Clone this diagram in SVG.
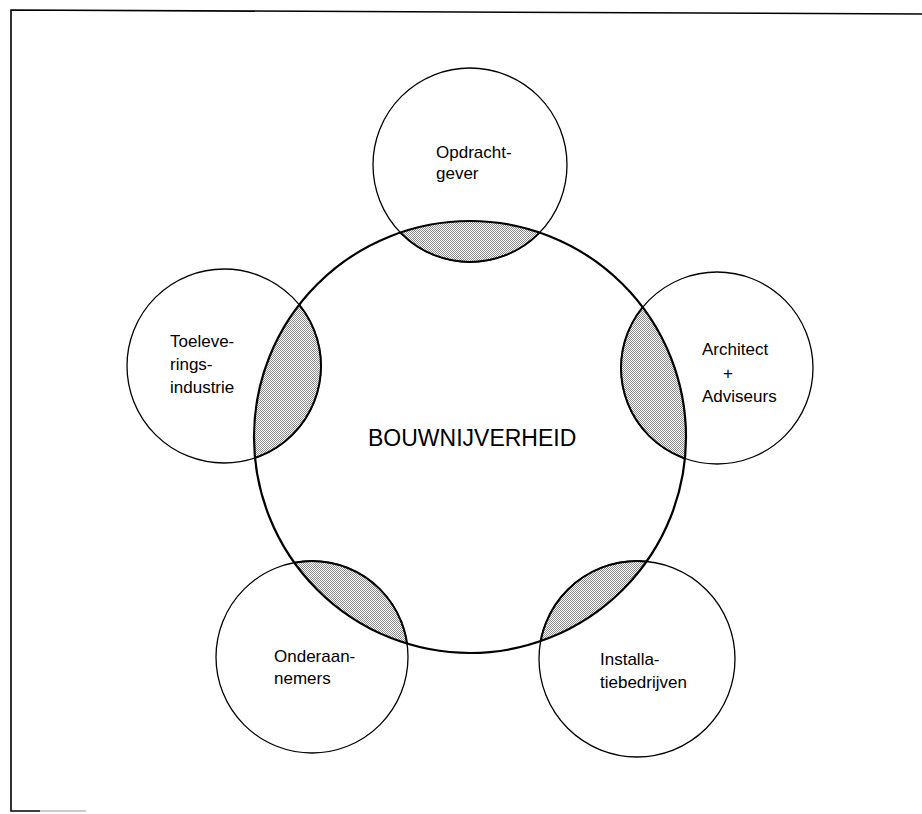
<svg xmlns="http://www.w3.org/2000/svg" width="922" height="814" viewBox="0 0 922 814">
<style>
.frame{fill:none;stroke:#000;stroke-width:1.6}
.small{fill:none;stroke:#000;stroke-width:1.3}
.lensedge{fill:none;stroke:#000;stroke-width:2}
.big{fill:none;stroke:#000;stroke-width:2.2}
.lbl{font-family:"Liberation Sans",Arial,sans-serif;font-size:17px;fill:#000}
.main{font-family:"Liberation Sans",Arial,sans-serif;font-size:23px;fill:#000}
</style>
<defs>
<pattern id="stip" width="2" height="2" patternUnits="userSpaceOnUse">
<rect width="2" height="2" fill="#ffffff"/>
<rect x="0" y="0" width="1" height="1" fill="#8a8a8a"/>
<rect x="1" y="1" width="1" height="1" fill="#8a8a8a"/>
</pattern>
<clipPath id="bigclip"><circle cx="470" cy="437" r="216"/></clipPath>
</defs>
<rect width="922" height="814" fill="#fff"/>
<g id="frame">
<polyline class="frame" points="922,14 11,10 11,811 40,811"/>
<line x1="40" y1="811" x2="86" y2="811" stroke="#bbbbbb" stroke-width="1.4"/>
</g>
<g id="lenses" clip-path="url(#bigclip)">
<circle cx="470" cy="165" r="97" fill="url(#stip)"/>
<circle cx="224" cy="366" r="97" fill="url(#stip)"/>
<circle cx="717" cy="368" r="96" fill="url(#stip)"/>
<circle cx="312" cy="657" r="96" fill="url(#stip)"/>
<circle cx="637" cy="659" r="98" fill="url(#stip)"/>
<circle class="lensedge" cx="470" cy="165" r="97"/>
<circle class="lensedge" cx="224" cy="366" r="97"/>
<circle class="lensedge" cx="717" cy="368" r="96"/>
<circle class="lensedge" cx="312" cy="657" r="96"/>
<circle class="lensedge" cx="637" cy="659" r="98"/>
</g>
<g id="bouwnijverheid">
<circle class="big" cx="470" cy="437" r="216"/>
<text class="main" x="368" y="446">BOUWNIJVERHEID</text>
</g>
<g id="opdrachtgever">
<circle class="small" cx="470" cy="165" r="97"/>
<text class="lbl" x="436" y="158">Opdracht-</text>
<text class="lbl" x="436" y="179">gever</text>
</g>
<g id="toeleveringsindustrie">
<circle class="small" cx="224" cy="366" r="97"/>
<text class="lbl" x="170" y="347">Toeleve-</text>
<text class="lbl" x="170" y="370">rings-</text>
<text class="lbl" x="170" y="393">industrie</text>
</g>
<g id="architect">
<circle class="small" cx="717" cy="368" r="96"/>
<text class="lbl" x="702" y="355">Architect</text>
<text class="lbl" x="728" y="379" text-anchor="middle">+</text>
<text class="lbl" x="702" y="402">Adviseurs</text>
</g>
<g id="onderaannemers">
<circle class="small" cx="312" cy="657" r="96"/>
<text class="lbl" x="274" y="662">Onderaan-</text>
<text class="lbl" x="274" y="684">nemers</text>
</g>
<g id="installatiebedrijven">
<circle class="small" cx="637" cy="659" r="98"/>
<text class="lbl" x="600" y="665">Installa-</text>
<text class="lbl" x="600" y="688">tiebedrijven</text>
</g>
<g id="connectors"></g>
</svg>
